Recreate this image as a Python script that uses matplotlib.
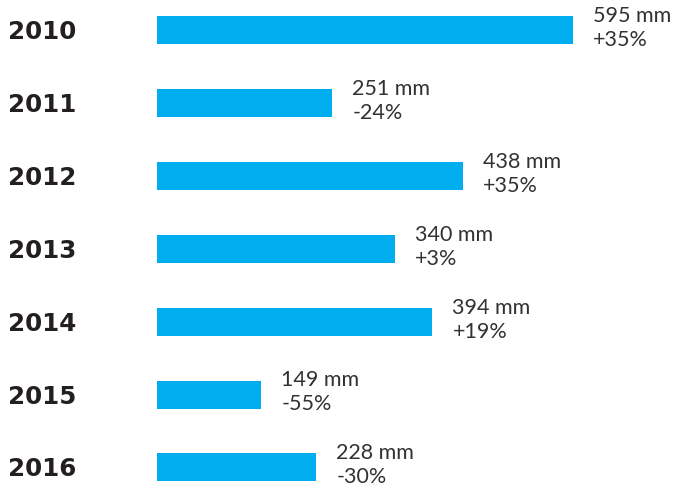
import matplotlib
matplotlib.use("Agg")
from matplotlib import pyplot as plt
import matplotlib.transforms as mtransforms

# data
years = ["2010", "2011", "2012", "2013", "2014", "2015", "2016"]
rain_mm = [595, 251, 438, 340, 394, 149, 228]
change = ["+35%", "-24%", "+35%", "+3%", "+19%", "-55%", "-30%"]

blue = "#00aeef"
ink = "#231f20"

W, H = 673, 487
fig = plt.figure(figsize=(W / 100, H / 100), dpi=100)

# axes spans from bar start (x=157px) to the right edge, full height
x0 = 157
ax = fig.add_axes([x0 / W, 0, 1 - x0 / W, 1])
px_per_mm = (573 - 157) / 595.0
ax.set_xlim(0, (W - x0) / px_per_mm)
top = 30.0
step = 72.9
ax.set_ylim((H - top) / step, -top / step)
ax.axis("off")

pos = list(range(len(years)))
ax.barh(pos, rain_mm, height=28 / step, color=blue, linewidth=0)

# year labels on the left
blend = mtransforms.blended_transform_factory(fig.transFigure, ax.transData)
for i, y in enumerate(years):
    tr = mtransforms.offset_copy(blend, fig=fig, x=0, y=-9 * 72 / 100, units="points")
    fig.text(8 / W, i, y, transform=tr, fontsize=17.7, fontweight="bold",
             family="DejaVu Sans", color=ink, va="baseline", ha="left")

# value labels
for i, (v, c) in enumerate(zip(rain_mm, change)):
    ax.annotate(f"{v} mm", (v, i), xytext=(20 * 0.72, 8 * 0.72),
                textcoords="offset points", fontsize=15.5, family="Lato",
                fontweight="normal", color="#333132", va="baseline", ha="left")
    ax.annotate(c, (v, i), xytext=(20 * 0.72, -16 * 0.72),
                textcoords="offset points", fontsize=15.5, family="Lato",
                fontweight="normal", color="#333132", va="baseline", ha="left")

fig.savefig("out.png", dpi=100)
